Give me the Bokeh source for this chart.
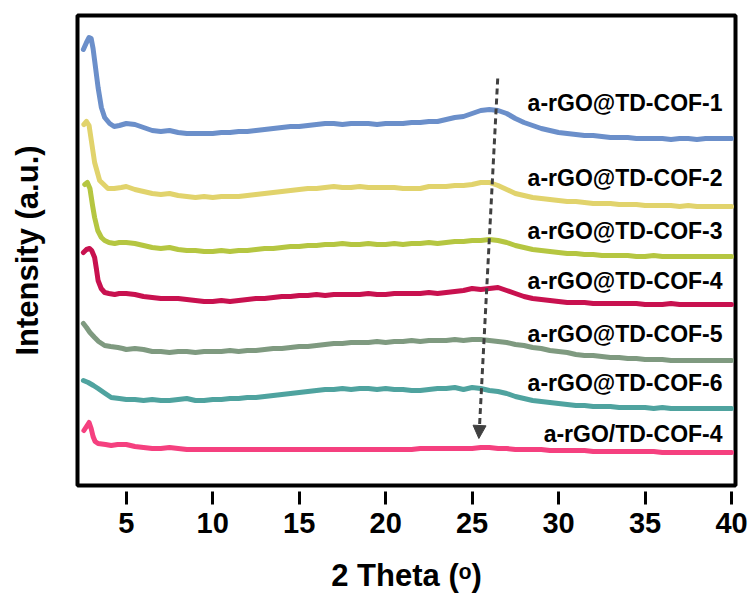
from bokeh.plotting import figure
from bokeh.models import Range1d, FixedTicker, Arrow, NormalHead
from bokeh.core.properties import value
from bokeh.embed import file_html
from bokeh.resources import INLINE

# ---- data -----------------------------------------------------------------
# wide-angle sampling positions, 2θ in degrees
theta = [5.0, 5.5, 6.0, 6.5, 7.0, 7.5, 8.0, 8.5, 9.0, 9.5,
         10.0, 10.5, 11.0, 11.5, 12.0, 12.5, 13.0, 13.5, 14.0, 14.5,
         15.0, 15.5, 16.0, 16.5, 17.0, 17.5, 18.0, 18.5, 19.0, 19.5,
         20.0, 20.5, 21.0, 21.5, 22.0, 22.5, 23.0, 23.5, 24.0, 24.5,
         25.0, 25.5, 26.0, 26.5, 27.0, 27.5, 28.0, 28.5, 29.0, 29.5,
         30.0, 30.5, 31.0, 31.5, 32.0, 32.5, 33.0, 33.5, 34.0, 34.5,
         35.0, 35.5, 36.0, 36.5, 37.0, 37.5, 38.0, 38.5, 39.0, 39.5,
         40.0]

names = ["a-rGO@TD-COF-1", "a-rGO@TD-COF-2", "a-rGO@TD-COF-3",
         "a-rGO@TD-COF-4", "a-rGO@TD-COF-5", "a-rGO@TD-COF-6",
         "a-rGO/TD-COF-4"]
colors = ["#6b8fca", "#e1d36c", "#b5c641", "#c8114f", "#7f9a80", "#4fa39f", "#f5407f"]
# vertical stacking offsets (a.u.)
offsets = [347, 279, 229, 181, 125, 77, 33]
label_y = [383, 308, 255, 205, 152, 103, 52]

# a-rGO@TD-COF-1
low_theta_1 = [2.52, 2.7, 2.85, 2.97, 3.08, 3.17, 3.37, 3.56, 3.75, 4.04, 4.3, 4.6]
low_int_1 = [89, 96, 101, 100, 90, 78, 51, 31, 21, 15, 12, 13]
int_1 = [15, 14, 11, 8, 7, 8, 6, 5, 5, 5,
         5, 6, 6, 7, 7, 8, 9, 10, 11, 12,
         12, 13, 14, 15, 15, 14, 15, 15, 15, 14,
         15, 15, 15, 16, 16, 17, 17, 19, 21, 22,
         25, 28, 29, 28, 25, 20, 16, 13, 10, 8,
         6, 5, 4, 3, 3, 2, 1, 1, 1, 0,
         0, 0, 0, -1, 0, 0, -1, 0, 0, 0,
         0]

# a-rGO@TD-COF-2
low_theta_2 = [2.55, 2.7, 2.85, 2.98, 3.17, 3.46, 3.94, 4.3, 4.71]
low_int_2 = [82, 85, 81, 66, 44, 26, 18, 18, 19]
int_2 = [20, 17, 15, 13, 12, 13, 11, 10, 9, 10,
         9, 10, 10, 10, 11, 12, 13, 14, 15, 16,
         17, 18, 18, 19, 20, 19, 19, 20, 19, 19,
         19, 19, 18, 18, 18, 20, 20, 20, 21, 21,
         22, 24, 24, 21, 17, 13, 11, 9, 8, 7,
         6, 5, 5, 4, 3, 3, 3, 2, 2, 2,
         1, 1, 1, 1, 0, 1, 0, 0, 0, 0,
         0]

# a-rGO@TD-COF-3
low_theta_3 = [2.6, 2.75, 2.9, 3.05, 3.17, 3.35, 3.56, 3.75, 4.0, 4.33, 4.6]
low_int_3 = [72, 74, 68, 51, 39, 26, 19, 16, 14, 13, 14]
int_3 = [14, 13, 11, 9, 8, 9, 7, 6, 6, 5,
         5, 6, 5, 6, 6, 7, 8, 8, 9, 10,
         10, 11, 11, 12, 12, 13, 12, 12, 13, 12,
         12, 13, 12, 13, 13, 14, 13, 14, 15, 15,
         16, 16, 17, 16, 14, 11, 9, 7, 6, 5,
         4, 3, 3, 2, 2, 1, 1, 1, 1, 0,
         0, 1, 0, 0, 0, 0, 0, 0, 0, 0,
         0]

# a-rGO@TD-COF-4
low_theta_4 = [2.52, 2.7, 2.88, 3.0, 3.17, 3.27, 3.37, 3.55, 3.75, 4.0, 4.33, 4.6]
low_int_4 = [52, 55, 56, 54, 47, 36, 24, 16, 12, 11, 10, 11]
int_4 = [11, 10, 8, 7, 6, 6, 6, 5, 4, 3,
         3, 4, 3, 4, 5, 6, 6, 7, 8, 8,
         9, 9, 10, 9, 10, 10, 10, 10, 11, 10,
         10, 11, 11, 11, 11, 12, 11, 12, 13, 14,
         16, 15, 16, 17, 14, 11, 8, 6, 5, 4,
         3, 2, 2, 2, 1, 1, 1, 1, 1, 1,
         0, 0, 0, 1, 0, 0, 0, 0, 0, 0,
         0]

# a-rGO@TD-COF-5
low_theta_5 = [2.52, 2.7, 2.9, 3.17, 3.4, 3.75, 4.1, 4.52, 4.8]
low_int_5 = [37, 33, 28, 23, 19, 15, 14, 13, 12]
int_5 = [11, 12, 11, 9, 9, 8, 9, 9, 8, 9,
         9, 9, 10, 9, 10, 10, 11, 12, 12, 13,
         14, 14, 15, 16, 17, 17, 18, 18, 18, 19,
         18, 19, 19, 20, 19, 20, 20, 20, 21, 20,
         21, 21, 20, 19, 18, 16, 15, 13, 12, 10,
         9, 8, 6, 5, 5, 4, 3, 3, 2, 2,
         1, 1, 1, 0, 0, 0, 0, 0, 0, 0,
         0]

# a-rGO@TD-COF-6
low_theta_6 = [2.52, 2.8, 3.1, 3.37, 3.7, 4.13, 4.6]
low_int_6 = [28, 26, 23, 20, 16, 11, 10]
int_6 = [9, 9, 8, 9, 8, 8, 9, 10, 8, 8,
         9, 9, 10, 10, 11, 11, 12, 13, 14, 15,
         16, 17, 18, 19, 19, 20, 19, 20, 20, 19,
         20, 19, 19, 18, 18, 19, 20, 20, 21, 19,
         21, 20, 18, 17, 15, 12, 10, 8, 7, 6,
         5, 4, 3, 3, 2, 2, 2, 1, 1, 1,
         1, 0, 1, 0, 0, 0, 0, 0, 0, 0,
         0]

# a-rGO/TD-COF-4
low_theta_7 = [2.55, 2.7, 2.85, 2.97, 3.08, 3.2, 3.37, 3.8, 4.13, 4.5]
low_int_7 = [22, 26, 30, 24, 16, 11, 9, 8, 7, 8]
int_7 = [8, 6, 5, 4, 4, 5, 4, 3, 3, 3,
         3, 3, 3, 3, 3, 3, 3, 3, 3, 3,
         3, 3, 3, 3, 3, 3, 3, 3, 3, 3,
         3, 3, 3, 3, 4, 4, 4, 4, 4, 4,
         4, 5, 5, 4, 4, 3, 3, 3, 3, 2,
         2, 2, 2, 2, 1, 1, 1, 1, 1, 1,
         1, 1, 0, 0, 0, 0, 0, 0, 0, 0,
         0]

x_ticks = [5, 10, 15, 20, 25, 30, 35, 40]

series = [
    (low_theta_1, low_int_1, int_1),
    (low_theta_2, low_int_2, int_2),
    (low_theta_3, low_int_3, int_3),
    (low_theta_4, low_int_4, int_4),
    (low_theta_5, low_int_5, int_5),
    (low_theta_6, low_int_6, int_6),
    (low_theta_7, low_int_7, int_7),
]

# ---- figure ---------------------------------------------------------------
FONT = "Liberation Sans"

p = figure(width=753, height=600,
           x_range=Range1d(2.18, 40.23), y_range=Range1d(0, 470),
           output_backend="svg", toolbar_location=None,
           min_border_left=77, min_border_right=18,
           min_border_top=15, min_border_bottom=115)

p.background_fill_color = "white"
p.border_fill_color = "white"
p.grid.visible = False
p.outline_line_color = "black"
p.outline_line_width = 4
p.outline_line_alpha = 1.0

# x axis: ticks hang below the frame with a small gap
p.xaxis.ticker = FixedTicker(ticks=x_ticks)
p.xaxis.axis_line_color = None
p.xaxis.major_tick_in = -6
p.xaxis.major_tick_out = 19
p.xaxis.major_tick_line_width = 3
p.xaxis.major_tick_line_color = "black"
p.xaxis.minor_tick_line_color = None
p.xaxis.major_label_standoff = 8
p.xaxis.major_label_text_font = FONT
p.xaxis.major_label_text_font_style = "bold"
p.xaxis.major_label_text_font_size = "29px"
p.xaxis.major_label_text_color = "black"
p.xaxis.axis_label = "2 Theta (ᵒ)"
p.xaxis.axis_label_standoff = 22
p.xaxis.axis_label_text_font = FONT
p.xaxis.axis_label_text_font_style = "bold"
p.xaxis.axis_label_text_font_size = "31px"
p.xaxis.axis_label_text_color = "black"

# y axis: label only
p.yaxis.ticker = FixedTicker(ticks=[])
p.yaxis.axis_line_color = None
p.yaxis.major_tick_line_color = None
p.yaxis.minor_tick_line_color = None
p.yaxis.axis_label = "Intensity (a.u.)"
p.yaxis.axis_label_standoff = 33
p.yaxis.axis_label_text_font = FONT
p.yaxis.axis_label_text_font_style = "bold"
p.yaxis.axis_label_text_font_size = "31px"
p.yaxis.axis_label_text_color = "black"

# stacked diffraction patterns
for (lt, li, wi), off, color in zip(series, offsets, colors):
    xs = lt + theta
    ys = [v + off for v in li + wi]
    p.line(xs, ys, line_color=color, line_width=5,
           line_join="round", line_cap="round")

# sample names
p.text(x=[39.48] * len(names), y=label_y, text=names,
       text_font=value(FONT), text_font_style="bold", text_font_size="23px",
       text_align="right", text_baseline="middle", text_color="black")

# dashed arrow tracing the shift of the broad (002) reflection
p.add_layout(Arrow(x_start=26.48, y_start=407, x_end=25.39, y_end=47,
                   line_color="#404040", line_width=3, line_dash="6 4",
                   end=NormalHead(size=13, fill_color="#404040",
                                  line_color="#404040", line_width=1)))

open("out.html", "w").write(file_html(p, INLINE))
